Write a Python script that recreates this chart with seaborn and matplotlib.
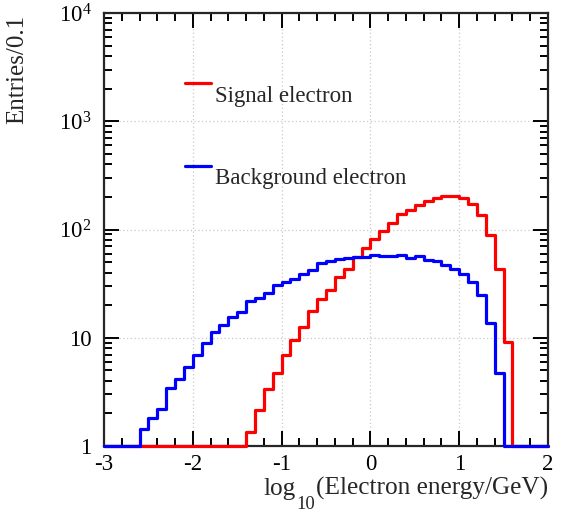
import numpy as np
import pandas as pd
import matplotlib
matplotlib.use("Agg")
import matplotlib.pyplot as plt
import matplotlib.ticker as mticker
from matplotlib.lines import Line2D
import seaborn as sns

# ---------------- data ----------------
bin_start = -3.0
bin_width = 0.1
signal = [0.0] * 16 + [
    1.34, 2.15, 3.38, 4.75, 6.87, 9.5, 12.7, 17.8, 22.6, 27.6,
    36.2, 42.9, 55.3, 67.9, 81.7, 97.5, 116, 139, 151, 167,
    182, 196, 204, 205, 194, 172, 137, 89, 42.9, 9.2,
] + [0.0] * 4
background = [0.0] * 4 + [
    1.45, 1.82, 2.21, 3.43, 4.18, 5.36, 6.92, 8.93, 11.2, 13.0,
    15.4, 17.2, 21.7, 23.4, 25.9, 30.5, 32.9, 34.9, 39.0, 42.5,
    49.0, 50.8, 53.1, 54.9, 55.3, 56.1, 58.5, 56.9, 57.3, 58.1,
    54.5, 56.5, 52.3, 50.8, 47.0, 43.2, 39.0, 32.9, 24.8, 13.8,
    4.69,
] + [0.0] * 5
series_labels = ["Signal electron", "Background electron"]
y_ticks = [1, 10, 100, 1000, 10000]
x_ticks = [-3, -2, -1, 0, 1, 2]
x_label_parts = ["log", "10", "(Electron energy/GeV)"]
y_label = "Entries/0.1"

# ---------------- style ----------------
sns.set_style("ticks")
plt.rcParams["font.family"] = ["Liberation Serif", "DejaVu Serif"]
plt.rcParams["mathtext.fontset"] = "custom"
plt.rcParams["mathtext.rm"] = "Liberation Serif"
plt.rcParams["mathtext.it"] = "Liberation Serif:italic"
plt.rcParams["mathtext.bf"] = "Liberation Serif:bold"

fig = plt.figure(figsize=(5.68, 5.13), dpi=100)
ax = fig.add_axes([104 / 568, 1 - 446 / 513, 444 / 568, 433 / 513])

ymin = 1.0
n = len(signal)
edges = bin_start + bin_width * np.arange(n + 1)


def step_frame(vals):
    v = np.clip(np.asarray(vals, dtype=float), ymin, None)
    return pd.DataFrame({"x": edges, "y": np.append(v, v[-1])})


sig_df = step_frame(signal)
bkg_df = step_frame(background)

sns.lineplot(data=sig_df, x="x", y="y", drawstyle="steps-post", estimator=None,
             sort=False, color="#ff0000", lw=2.3, ax=ax, clip_on=False, zorder=3)
sns.lineplot(data=bkg_df, x="x", y="y", drawstyle="steps-post", estimator=None,
             sort=False, color="#0000ff", lw=2.3, ax=ax, clip_on=False, zorder=4)

ax.set_yscale("log")
ax.set_xlim(x_ticks[0], x_ticks[-1])
ax.set_ylim(y_ticks[0], y_ticks[-1])

ax.xaxis.set_major_locator(mticker.FixedLocator(x_ticks))
ax.xaxis.set_minor_locator(mticker.MultipleLocator(0.2))
ax.xaxis.set_major_formatter(mticker.FuncFormatter(lambda v, p: "%d" % round(v)))
ax.yaxis.set_major_locator(mticker.FixedLocator(y_ticks))
ax.yaxis.set_minor_locator(mticker.LogLocator(base=10, subs=np.arange(2, 10)))
ax.yaxis.set_minor_formatter(mticker.NullFormatter())


def yfmt(v, p):
    k = int(round(np.log10(v)))
    if k <= 1:
        return "%d" % round(v)
    return r"$10^{%d}$" % k


ax.yaxis.set_major_formatter(mticker.FuncFormatter(yfmt))

ax.grid(True, which="major", ls=(0, (1, 2)), color="#c8c8c8", lw=0.9)
ax.tick_params(which="both", direction="in", top=True, right=True, width=1.4,
               colors="black", labelsize=16.5)
ax.tick_params(which="major", length=11)
ax.tick_params(which="minor", length=6)
ax.tick_params(axis="x", which="major", pad=6)
ax.tick_params(axis="y", which="major", pad=9)
for s in ax.spines.values():
    s.set_linewidth(1.6)
    s.set_zorder(2)

ax.set_xlabel("")
ax.set_ylabel(y_label, fontsize=18, loc="top")
ax.yaxis.set_label_coords(-0.171, 0.996)

# x-axis title, ROOT style with big, low subscript
t_main = ax.text(1.0, -0.112, x_label_parts[2], transform=ax.transAxes,
                 ha="right", va="baseline", fontsize=18.2)
t_sub = ax.annotate(x_label_parts[1], xy=(0, 0), xycoords=t_main,
                    xytext=(-0.5, -9.4), textcoords="offset points",
                    ha="right", va="bottom", fontsize=13.4)
t_log = ax.annotate(x_label_parts[0], xy=(0, 0), xycoords=(t_sub, t_main),
                    xytext=(-0.5, 0), textcoords="offset points",
                    ha="right", va="bottom", fontsize=18.2)

# legend (ROOT-style: line key, text offset below)
colors = ["#ff0000", "#0000ff"]
key_y = [0.838, 0.647]
txt_y = [0.794, 0.605]
for lab, c, ky, ty in zip(series_labels, colors, key_y, txt_y):
    ax.add_line(Line2D([0.182, 0.241], [ky, ky], transform=ax.transAxes,
                       color=c, lw=2.3, zorder=5))
    ax.text(0.250, ty, lab, transform=ax.transAxes, fontsize=16.5,
            va="baseline", ha="left", zorder=5)

fig.savefig("out.png", dpi=100)
